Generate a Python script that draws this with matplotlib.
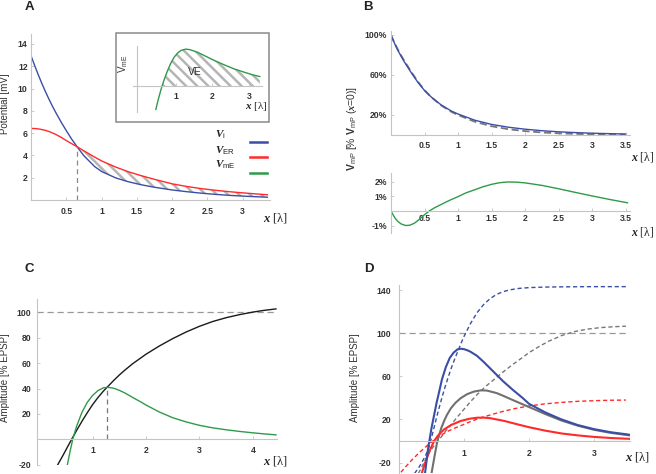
import matplotlib
matplotlib.use("Agg")
import matplotlib.pyplot as plt
from matplotlib.patches import Rectangle

W, H = 656, 474
plt.rcParams['font.family'] = ['Liberation Sans', 'DejaVu Sans']
plt.rcParams['hatch.linewidth'] = 1.8
plt.rcParams['mathtext.fontset'] = 'custom'
plt.rcParams['mathtext.rm'] = 'Liberation Sans'
plt.rcParams['mathtext.sf'] = 'Liberation Sans'
plt.rcParams['mathtext.it'] = 'Liberation Serif:italic:bold'
plt.rcParams['mathtext.bf'] = 'Liberation Sans:bold'

# ---------------- data ----------------
# Panel A
xa = [0, 0.05, 0.1, 0.15, 0.2, 0.25, 0.3, 0.35, 0.43, 0.5, 0.57, 0.65, 0.75, 0.9, 1.0, 1.2,
      1.37, 1.55, 1.75, 2.0, 2.2, 2.4, 2.6, 2.8, 3.0, 3.2, 3.35]
a_vi = [12.9, 12.05, 11.24, 10.47, 9.75, 9.07, 8.43, 7.83, 6.93, 6.2, 5.5, 4.78, 3.95, 3.0, 2.55, 1.98,
        1.65, 1.38, 1.14, 0.9, 0.75, 0.62, 0.51, 0.42, 0.35, 0.29, 0.25]
a_ver = [6.42, 6.41, 6.38, 6.32, 6.25, 6.15, 6.02, 5.88, 5.6, 5.32, 5.07, 4.78, 4.4, 3.85, 3.5, 2.95,
         2.55, 2.2, 1.85, 1.45, 1.22, 1.03, 0.88, 0.75, 0.64, 0.54, 0.47]
a_cross_x, a_cross_y = 0.65, 4.78
a_xticks = [0.5, 1, 1.5, 2, 2.5, 3]
a_yticks = [2, 4, 6, 8, 10, 12, 14]
# inset of A
xi = [0.46, 0.52, 0.58, 0.63, 0.7, 0.78, 0.87, 0.96, 1.05, 1.15, 1.28, 1.4, 1.6, 1.8, 2.0, 2.3, 2.6, 2.9, 3.1, 3.3]
vi_me = [-26, -16, -7, 0, 8.5, 17, 25.5, 32, 36.5, 39.6, 41, 40.3, 37.5, 33.5, 29.5, 24, 19, 15, 12.5, 10.5]
inset_xticks = [1, 2, 3]

# Panel B
xb = [0, 0.05, 0.1, 0.15, 0.2, 0.3, 0.4, 0.5, 0.6, 0.75, 0.9, 1.0, 1.25, 1.5, 1.75, 2.0, 2.25,
      2.5, 2.75, 3.0, 3.25, 3.5]
b_vmp = [100, 92, 85, 78.8, 73, 62.5, 52.8, 44.5, 38, 30, 24, 21, 14.8, 10.6, 7.8, 5.8, 4.3,
         3.2, 2.4, 1.8, 1.35, 1.0]
b_vmp_dash = [100, 92.3, 85.7, 79.7, 74, 63.5, 53.5, 44.8, 37.9, 29.5, 23.2, 20, 13.3, 8.8, 5.8, 3.9, 2.55,
              1.7, 1.1, 0.8, 0.55, 0.4]
xb2 = [0, 0.03, 0.06, 0.1, 0.15, 0.22, 0.28, 0.35, 0.42, 0.5, 0.57, 0.65, 0.75, 0.87, 1.0, 1.12, 1.25,
       1.37, 1.5, 1.62, 1.74, 1.87, 2.0, 2.25, 2.5, 2.75, 3.0, 3.25, 3.53]
b_diff = [0, -0.25, -0.48, -0.7, -0.88, -0.99, -0.97, -0.83, -0.58, -0.25, 0.0, 0.22, 0.45, 0.72, 0.98,
          1.24, 1.45, 1.65, 1.82, 1.93, 1.98, 1.97, 1.92, 1.75, 1.52, 1.27, 1.03, 0.8, 0.56]
b_xticks = [0.5, 1, 1.5, 2, 2.5, 3, 3.5]
b_yticks_top = [20, 60, 100]
b_yticks_bot = [-1, 1, 2]

# Panel C
xc_black = [0.35, 0.45, 0.55, 0.61, 0.7, 0.8, 0.9, 1.0, 1.1, 1.2, 1.28, 1.4, 1.5, 1.6, 1.75, 1.9, 2.0,
            2.25, 2.5, 2.75, 3.0, 3.25, 3.5, 3.75, 4.0, 4.2, 4.43]
c_black = [-20, -12.5, -4.6, 0, 6.8, 14, 20.8, 27.2, 32.8, 37.8, 41.3, 46.5, 50.6, 54.3, 59.5, 64, 67,
           73.5, 79.3, 84.5, 89, 92.8, 95.8, 98.2, 100.2, 101.5, 102.7]
xc_green = [0.53, 0.58, 0.63, 0.7, 0.8, 0.9, 1.0, 1.1, 1.2, 1.28, 1.4, 1.5, 1.6, 1.75, 1.9, 2.0, 2.25,
            2.5, 2.75, 3.0, 3.25, 3.5, 3.75, 4.0, 4.2, 4.43]
c_green = [-20, -9.5, 0, 10, 21, 29, 34.5, 38.3, 40.5, 41, 40.2, 38.6, 36.6, 33, 29.5, 27, 21.5,
           17, 13.7, 11, 9, 7.5, 6.2, 5.1, 4.3, 3.5]
c_peak_x, c_peak_y = 1.28, 41
c_xticks = [1, 2, 3, 4]
c_yticks = [-20, 20, 40, 60, 80, 100]

# Panel D
xd_blue = [0.40, 0.45, 0.5, 0.54, 0.58, 0.615, 0.66, 0.72, 0.78, 0.84, 0.9, 0.95, 1.0, 1.05, 1.1, 1.2,
           1.3, 1.4, 1.5, 1.6, 1.75, 1.9, 2.0, 2.25, 2.5, 2.75, 3.0, 3.25, 3.55]
d_blue = [-30, -6, 12, 24, 36, 45, 57, 68.5, 77, 82, 85, 85.6, 85.2, 84.2, 82.8, 79, 73.5, 67.5, 61.5,
          55.5, 47.5, 40, 34.5, 26.5, 20, 14.8, 11, 8.2, 5.8]
xd_gray = [0.50, 0.55, 0.59, 0.65, 0.7, 0.74, 0.8, 0.87, 0.95, 1.05, 1.15, 1.26, 1.35, 1.5, 1.6, 1.75,
           2.0, 2.25, 2.5, 2.75, 3.0, 3.25, 3.55]
d_gray = [-30, -13, 0, 12, 19.5, 24.5, 30.5, 35.5, 39.8, 43.5, 45.8, 47, 46.8, 44.5, 42, 38,
          31.5, 25, 19, 14.2, 10.4, 7.6, 5.2]
xd_red = [0.35, 0.4, 0.44, 0.49, 0.54, 0.6, 0.69, 0.8, 0.95, 1.08, 1.2, 1.3, 1.4, 1.62, 1.8, 2.0, 2.25,
          2.5, 2.75, 3.0, 3.25, 3.55]
d_red = [-30, -20.5, -14, -6.5, 0, 5, 10.6, 14.8, 18.6, 20.6, 21.6, 21.7, 21.2, 18.6, 15.8, 12.8, 9.6,
         7, 5.2, 3.8, 2.8, 2.0]
xd_blue_d = [0.24, 0.3, 0.35, 0.4, 0.45, 0.5, 0.55, 0.6, 0.65, 0.7, 0.75, 0.8, 0.85, 0.9, 0.95, 1.0, 1.05,
             1.1, 1.2, 1.3, 1.4, 1.5, 1.6, 1.7, 1.85, 2.0, 2.25, 2.5, 3.0, 3.49]
d_blue_d = [-30, -25, -20, -14.5, -8, 3, 15, 27, 38, 48.5, 58, 67, 75, 82.5, 90, 97, 103,
            109, 119, 126.5, 132, 136, 138.5, 140.2, 141.6, 142.3, 142.8, 143, 143.2, 143.2]
xd_gray_d = [0.3, 0.38, 0.45, 0.55, 0.64, 0.72, 0.8, 0.9, 1.0, 1.1, 1.2, 1.33, 1.46, 1.6, 1.75, 1.9, 2.0,
             2.15, 2.3, 2.5, 2.7, 2.9, 3.1, 3.3, 3.49]
d_gray_d = [-30, -20.5, -12, -3.5, 3, 9.5, 15, 22.5, 29.5, 36.5, 43, 50.5, 57, 64, 71, 77.5, 82,
            87.5, 92.5, 97.8, 101.5, 103.8, 105.2, 106, 106.5]
xd_red_d = [0.03, 0.1, 0.2, 0.3, 0.4, 0.54, 0.65, 0.75, 0.85, 0.95, 1.1, 1.26, 1.45, 1.62, 1.8, 2.0, 2.25,
            2.5, 2.75, 3.0, 3.25, 3.49]
d_red_d = [-29, -24, -17.5, -11.5, -6, 1, 5.5, 9, 11.8, 14.2, 18, 21.6, 25, 27.8, 30.3, 32.5, 34.5,
           35.8, 36.8, 37.4, 37.8, 38]
d_ref_line = 100
d_xticks = [1, 2, 3]
d_yticks = [-20, 20, 60, 100, 140]

# ---------------- styling ----------------
BLUE = '#3b4ea6'
RED = '#ff2a2a'
GREEN = '#2f9a4a'
SPINE = '#c4c4c4'
TICKC = '#333333'
SERIF = ['Liberation Serif', 'DejaVu Serif']

fig = plt.figure(figsize=(W / 100, H / 100), dpi=100)


def ax_px(x0, y0, x1, y1):
    return fig.add_axes([x0 / W, 1 - y1 / H, (x1 - x0) / W, (y1 - y0) / H])


def style(ax, xpad=4.5, ypad=2.5, fs=6.2):
    for s in ['top', 'right']:
        ax.spines[s].set_visible(False)
    for s in ['left', 'bottom']:
        ax.spines[s].set_color(SPINE)
        ax.spines[s].set_linewidth(0.8)
    ax.patch.set_alpha(0)
    ax.tick_params(axis='both', direction='in', length=2.2, width=0.6, color=SPINE,
                   labelsize=fs, labelcolor=TICKC)
    ax.tick_params(axis='x', pad=xpad)
    ax.tick_params(axis='y', pad=ypad)
    for lab in ax.get_xticklabels() + ax.get_yticklabels():
        lab.set_fontweight('bold')


def ftext(x, y, s, **kw):
    return fig.text(x / W, 1 - y / H, s, **kw)


def xlabel_at(x, y, fs=9):
    ftext(x, y, r'$x$ [λ]', family=SERIF, fontsize=fs, ha='center', va='center', color='#222222')


# ---------------- Panel A ----------------
axA = ax_px(31.2, 33.9, 270.2, 200)
axA.set_xlim(0, 3.39)
axA.set_ylim(0, 14.9)
xs = [x for x in xa if x >= a_cross_x]
lo = [v for x, v in zip(xa, a_vi) if x >= a_cross_x]
hi = [v for x, v in zip(xa, a_ver) if x >= a_cross_x]
axA.fill_between(xs, lo, hi, facecolor='none', edgecolor='#b5b5b5', hatch='\\\\\\', linewidth=0)
axA.plot(xa, a_vi, color=BLUE, lw=1.0)
axA.plot(xa, a_ver, color=RED, lw=1.0)
axA.plot([a_cross_x, a_cross_x], [0, a_cross_y], color='#888888', lw=0.9, dashes=(4, 3))
axA.set_xticks(a_xticks)
axA.set_xticklabels([f'{t:g}' for t in a_xticks])
axA.set_yticks(a_yticks)
axA.set_yticklabels([str(t) for t in a_yticks])
style(axA, xpad=5.0, ypad=2.5)

ftext(29, 7, 'A', fontsize=9.5, fontweight='bold', ha='center', va='center', color='#222222')
ftext(5, 104, 'Potential [mV]', rotation=90, fontsize=7, ha='center', va='center', color='#333333')
xlabel_at(276, 218)

# legend of A
leg = [(r'$V_{\mathrm{i}}$', BLUE, 135, 141.7),
       (r'$V_{\mathrm{ER}}$', RED, 150.5, 156.7),
       (r'$V_{\mathrm{mE}}$', GREEN, 164.5, 172.7)]
for lab, col, ty, ly in leg:
    ftext(215, ty, lab, fontsize=8, ha='left', va='center', color='#222222')
    fig.add_artist(plt.Line2D([250 / W, 266.5 / W], [1 - ly / H, 1 - ly / H], color=col, lw=1.8,
                              transform=fig.transFigure))

# inset box
fig.add_artist(Rectangle((116 / W, 1 - 122 / H), (269 - 116) / W, (122 - 33) / H,
                         transform=fig.transFigure, fill=False, edgecolor='#8a8a8a', lw=1.1))
axI = ax_px(133, 45.7, 262, 112)
axI.set_xlim(-0.164, 3.36)
axI.set_ylim(-28.9, 44.8)
xs_i = [x for x, v in zip(xi, vi_me) if v >= 0]
vs_i = [v for v in vi_me if v >= 0]
axI.fill_between(xs_i, 0, vs_i, facecolor='none', edgecolor='#b5b5b5', hatch='\\\\\\', linewidth=0)
axI.plot(xi, vi_me, color=GREEN, lw=1.0)
axI.spines['left'].set_position(('data', -0.06))
axI.spines['bottom'].set_position(('data', 0))
axI.set_xticks(inset_xticks)
axI.set_xticklabels([str(t) for t in inset_xticks])
axI.set_yticks([])
style(axI, xpad=4.0)
ftext(123.3, 64, r'V$_{\mathrm{mE}}$', rotation=90, fontsize=7, ha='center', va='center', color='#333333')
ftext(195, 71.7, 'VE', fontsize=7.5, ha='center', va='center', color='#333333')
xlabel_at(256.7, 106.7, fs=8)

# ---------------- Panel B ----------------
axB1 = ax_px(391, 31, 630.2, 135)
axB1.set_xlim(0, 3.57)
axB1.set_ylim(0, 104)
axB1.plot(xb, b_vmp_dash, color='#777777', lw=1.3, dashes=(4, 2))
axB1.plot(xb, b_vmp, color=BLUE, lw=1.0)
axB1.set_xticks(b_xticks)
axB1.set_xticklabels([f'{t:g}' for t in b_xticks])
axB1.set_yticks(b_yticks_top)
axB1.set_yticklabels([f'{t}%' for t in b_yticks_top])
style(axB1, xpad=4.0, ypad=3.0)

axB2 = ax_px(391, 172.9, 630.2, 233)
axB2.set_xlim(0, 3.57)
axB2.set_ylim(-1.5, 2.6)
axB2.plot(xb2, b_diff, color=GREEN, lw=1.0)
axB2.spines['bottom'].set_position(('data', 0))
axB2.set_xticks(b_xticks)
axB2.set_xticklabels([f'{t:g}' for t in b_xticks])
axB2.set_yticks(b_yticks_bot)
axB2.set_yticklabels([f'{t}%' for t in b_yticks_bot])
style(axB2, xpad=2.5, ypad=3.0)

ftext(368, 7, 'B', fontsize=9.5, fontweight='bold', ha='center', va='center', color='#222222')
ftext(352, 128, r'$\mathbf{V}_{\mathrm{mP}}$ [% $\mathbf{V}_{\mathrm{mP}}$ ($x$=0)]', rotation=90,
      fontsize=7.5, ha='center', va='center', color='#333333')
xlabel_at(643, 157, fs=8.5)
xlabel_at(643, 232, fs=8.5)

# ---------------- Panel C ----------------
axC = ax_px(36.9, 299, 277, 464.7)
axC.set_xlim(-0.04, 4.45)
axC.set_ylim(-20, 110.5)
axC.axhline(100, color='#999999', lw=0.9, dashes=(5, 3))
axC.plot(xc_black, c_black, color='#1a1a1a', lw=1.0)
axC.plot(xc_green, c_green, color=GREEN, lw=1.0)
axC.plot([c_peak_x, c_peak_x], [0, c_peak_y], color='#777777', lw=0.9, dashes=(4, 3))
axC.spines['bottom'].set_position(('data', 0))
axC.set_xticks(c_xticks)
axC.set_xticklabels([str(t) for t in c_xticks])
axC.set_yticks(c_yticks)
axC.set_yticklabels([str(t) for t in c_yticks])
style(axC, xpad=5.0, ypad=4.0)

ftext(29, 269, 'C', fontsize=9.5, fontweight='bold', ha='center', va='center', color='#222222')
ftext(5, 378, 'Amplitude [% EPSP]', rotation=90, fontsize=7, ha='center', va='center', color='#333333')
xlabel_at(275.5, 460.7)

# ---------------- Panel D ----------------
axD = ax_px(399, 284.7, 629.8, 472.8)
axD.set_xlim(0, 3.55)
axD.set_ylim(-29.5, 145)
axD.plot([0, 3.49], [d_ref_line, d_ref_line], color='#999999', lw=0.9, dashes=(5, 3))
axD.plot(xd_blue_d, d_blue_d, color=BLUE, lw=1.0, dashes=(3, 2))
axD.plot(xd_gray_d, d_gray_d, color='#777777', lw=1.0, dashes=(3, 2))
axD.plot(xd_red_d, d_red_d, color=RED, lw=1.0, dashes=(3, 2))
axD.plot(xd_gray, d_gray, color='#707070', lw=1.5)
axD.plot(xd_red, d_red, color=RED, lw=1.5)
axD.plot(xd_blue, d_blue, color=BLUE, lw=1.5)
axD.spines['bottom'].set_position(('data', 0))
axD.set_xticks(d_xticks)
axD.set_xticklabels([str(t) for t in d_xticks])
axD.set_yticks(d_yticks)
axD.set_yticklabels([str(t) for t in d_yticks])
style(axD, xpad=5.5, ypad=5.5)

ftext(369, 269, 'D', fontsize=9.5, fontweight='bold', ha='center', va='center', color='#222222')
ftext(355, 378, 'Amplitude [% EPSP]', rotation=90, fontsize=7, ha='center', va='center', color='#333333')
xlabel_at(637.5, 457)

fig.savefig('out.png', dpi=100)
